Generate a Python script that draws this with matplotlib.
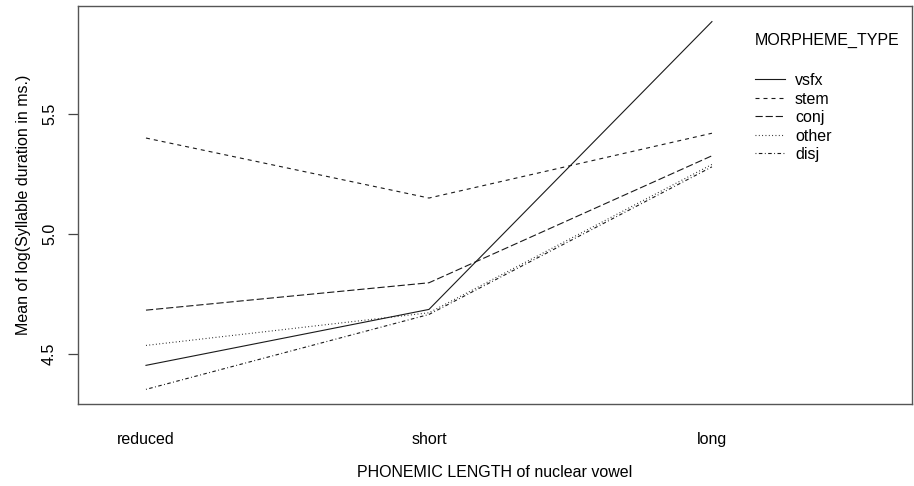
import numpy as np
import matplotlib
matplotlib.use("Agg")
from matplotlib import pyplot as plt

plt.rcParams['font.family'] = ['Liberation Sans', 'DejaVu Sans']

# factor levels and group means
lengths = ["reduced", "short", "long"]
morph_types = ["vsfx", "stem", "conj", "other", "disj"]
vsfx = [4.453, 4.686, 5.885]
stem = [5.40, 5.15, 5.42]
conj = [4.683, 4.797, 5.326]
other = [4.536, 4.672, 5.290]
disj = [4.353, 4.665, 5.280]

styles = ["-", (0, (3.6, 3.6)), (0, (6.5, 2.6)), (0, (0.8, 2.2)), (0, (0.8, 2.2, 3.2, 2.2))]
fs = 11.5

fig = plt.figure(figsize=(9.14, 4.86), dpi=100)
ax = fig.add_axes([77.5 / 914, 1 - 404 / 486, 834.5 / 914, 398 / 486])

x = np.arange(1, len(lengths) + 1)
handles = []
for name, vals, ls in zip(morph_types, [vsfx, stem, conj, other, disj], styles):
    h, = ax.plot(x, vals, linestyle=ls, color="#1a1a1a", lw=0.8, label=name)
    handles.append(h)

ax.set_xlim(0.758, 3.707)
ax.set_ylim(4.292, 5.95)

ax.set_xticks(x)
ax.set_xticklabels(lengths, fontsize=fs)
ax.tick_params(axis="x", length=0, pad=20)
ax.set_yticks([4.5, 5.0, 5.5])
ax.set_yticklabels(["4.5", "5.0", "5.5"], rotation=90, va="center", fontsize=fs)
ax.tick_params(axis="y", length=7.2, width=0.9, color="#444444", pad=7.5)

for sp in ax.spines.values():
    sp.set_color("#555555")
    sp.set_linewidth(1.0)

ax.set_xlabel("PHONEMIC LENGTH of nuclear vowel", fontsize=fs)
ax.xaxis.set_label_coords(0.5, -0.154)
ax.set_ylabel("Mean of log(Syllable duration in ms.)", fontsize=fs)
ax.yaxis.set_label_coords(-0.0557, 0.5)

fig.text(755 / 914, 1 - 40 / 486, "MORPHEME_TYPE", fontsize=fs, ha="left", va="center")
ax.legend(handles=handles, loc="upper left", bbox_to_anchor=(755 / 914, 1 - 73 / 486),
          bbox_transform=fig.transFigure, frameon=False, fontsize=fs,
          handlelength=1.9, handletextpad=0.6, labelspacing=0.22,
          borderpad=0, borderaxespad=0)

fig.savefig("out.png", dpi=100)
